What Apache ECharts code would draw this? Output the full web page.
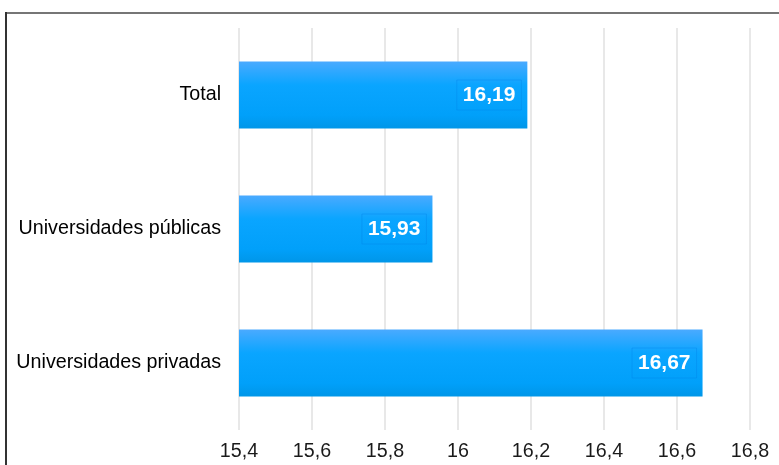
<!DOCTYPE html>
<html>
<head>
<meta charset="utf-8">
<script src="https://cdn.jsdelivr.net/npm/echarts@6/dist/echarts.min.js"></script>
<style>
  html, body { margin: 0; padding: 0; background: #fff; }
  #chart { width: 779px; height: 465px; }
</style>
</head>
<body>
<div id="chart"></div>
<script>
// Duración media por tipo de universidad
var categories = ['Total', 'Universidades públicas', 'Universidades privadas'];
var values = [16.19, 15.93, 16.67];
var axisMin = 15.4;
var axisMax = 16.8;
var axisStep = 0.2;

function fmt(v) {
  return String(Math.round(v * 100) / 100).replace('.', ',');
}

var chart = echarts.init(document.getElementById('chart'));
chart.setOption({
  animation: false,
  backgroundColor: '#ffffff',
  textStyle: { fontFamily: 'Liberation Sans, Arial, sans-serif' },
  graphic: [
    { type: 'line', shape: { x1: 6, y1: 13, x2: 779, y2: 13 }, style: { stroke: '#767676', lineWidth: 2 } },
    { type: 'line', shape: { x1: 6, y1: 12, x2: 6, y2: 465 }, style: { stroke: '#333333', lineWidth: 2 } }
  ],
  grid: { left: 239, right: 29, top: 28, bottom: 35, containLabel: false },
  xAxis: {
    type: 'value',
    min: axisMin,
    max: axisMax,
    interval: axisStep,
    axisLine: { show: false },
    axisTick: { show: false },
    axisLabel: {
      margin: 12,
      fontSize: 19.7,
      color: '#1a1a1a',
      formatter: fmt
    },
    splitLine: { show: true, lineStyle: { color: '#e8e8e8', width: 2 } }
  },
  yAxis: {
    type: 'category',
    data: categories,
    inverse: true,
    axisLine: { show: false },
    axisTick: { show: false },
    axisLabel: { margin: 18, fontSize: 19.7, color: '#000000' }
  },
  series: [{
    type: 'bar',
    data: values,
    barWidth: '50%',
    itemStyle: {
      color: new echarts.graphic.LinearGradient(0, 0, 0, 1, [
        { offset: 0, color: '#4aaaff' },
        { offset: 0.35, color: '#0aa5ff' },
        { offset: 0.8, color: '#01a0fa' },
        { offset: 1, color: '#0096e8' }
      ])
    },
    label: {
      show: true,
      position: 'insideRight',
      distance: 6,
      formatter: function (p) { return fmt(p.value); },
      color: '#ffffff',
      fontSize: 21,
      fontWeight: 'bold',
      padding: [5, 6, 4, 6],
      borderColor: 'rgba(0, 130, 230, 0.35)',
      borderWidth: 1
    }
  }]
});
</script>
</body>
</html>
